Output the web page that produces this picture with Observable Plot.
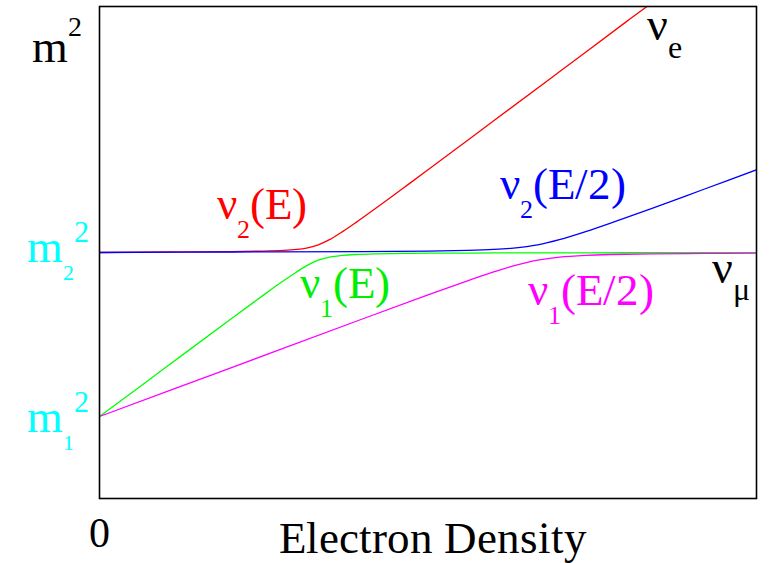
<!DOCTYPE html>
<html><head><meta charset="utf-8">
<style>
@font-face{font-family:"RefSerif";src:local("Liberation Serif"),local("LiberationSerif"),local("LiberationSerif-Regular"),local("Times New Roman");}
body{margin:0;background:#fff}
#chart{position:relative;width:769px;height:563px;overflow:hidden}
</style>
</head><body>
<div id="chart"></div>
<script src="https://cdn.jsdelivr.net/npm/d3@7"></script>
<script src="https://cdn.jsdelivr.net/npm/@observablehq/plot@0.6"></script>
<script>
// Electron density (arbitrary units, 0..1) and m^2 values (m1^2 = 1, m2^2 = 2)
const densityE   = [0,0.1,0.2,0.25,0.28,0.3,0.315,0.333,0.35,0.37,0.39,0.42,0.46,0.5,0.6,0.7,0.8,0.8333];
const nu2E       = [2.0,2.003,2.0055,2.0085,2.0128,2.0186,2.027,2.047,2.0782,2.1274,2.1821,2.2682,2.3857,2.5044,2.8028,3.102,3.4016,3.5];
const densityE1  = [0,0.1,0.2,0.25,0.28,0.3,0.315,0.333,0.35,0.37,0.39,0.42,0.46,0.5,0.6,0.7,0.8,0.9,1.0];
const nu1E       = [1.0,1.2969,1.5946,1.7415,1.8272,1.8814,1.9181,1.953,1.9718,1.9827,1.9879,1.9918,1.9943,1.9956,1.9972,1.998,1.9984,1.9987,1.9989];
const densityHalf= [0,0.2,0.4,0.5,0.56,0.6,0.63,0.667,0.7,0.74,0.78,0.84,0.92,1.0];
const nu2Half    = [2.0,2.0031,2.0055,2.0085,2.0128,2.0186,2.027,2.047,2.0782,2.1274,2.1821,2.2682,2.3857,2.5044];
const nu1Half    = [1.0,1.2969,1.5946,1.7415,1.8272,1.8814,1.9181,1.953,1.9718,1.9827,1.9879,1.9918,1.9943,1.9956];

const seriesNames  = ["nu2E","nu1E","nu2Half","nu1Half"];
const seriesColors = ["#ff0000","#00ff00","#0000ff","#ff00ff"];

// Text annotations: parts [text, role], anchored (baseline start) in data coordinates
const labelParts = [
  [["m","b"],["2","sup"]],
  [["m","b"],["2","sub"],["2","sup"]],
  [["m","b"],["1","sub"],["2","sup"]],
  [["0","b"]],
  [["Electron Density","b"]],
  [["ν","b"],["2","sub"],["(E)","b"]],
  [["ν","b"],["1","sub"],["(E)","b"]],
  [["ν","b"],["2","sub"],["(E/2)","b"]],
  [["ν","b"],["1","sub"],["(E/2)","b"]],
  [["ν","b"],["e","sub"]],
  [["ν","b"],["μ","sub"]]
];
const labelX = [-0.102,-0.110,-0.110,0,0.508,0.180,0.306,0.610,0.653,0.834,0.933];
const labelY = [3.159,1.939,0.902,0.201,0.165,2.201,1.720,2.323,1.677,3.293,1.811];

// styles for labels (not data): size, [subSize, subDrop], [supSize, supRise]
const labelStyle = [
  {fill:"#000", size:46, anchor:"start", sup:[28,26]},
  {fill:"#00ffff", size:46, anchor:"start", sub:[22,18], sup:[30,20]},
  {fill:"#00ffff", size:46, anchor:"start", sub:[22,18], sup:[30,20]},
  {fill:"#000", size:42, anchor:"middle"},
  {fill:"#000", size:45, anchor:"middle"},
  {fill:"#ff0000", size:45, anchor:"start", sub:[26,19]},
  {fill:"#00ee00", size:45, anchor:"start", sub:[26,19]},
  {fill:"#0000ff", size:45, anchor:"start", sub:[26,19]},
  {fill:"#ff00ff", size:45, anchor:"start", sub:[26,19]},
  {fill:"#000", size:46, anchor:"start", sub:[32,18]},
  {fill:"#000", size:46, anchor:"start", sub:[32,17]}
];
const FONT = "RefSerif,'Liberation Serif','Times New Roman',serif";

const rows = [];
densityE.forEach((x,i)=>rows.push({series:"nu2E", x, y:nu2E[i]}));
densityE1.forEach((x,i)=>rows.push({series:"nu1E", x, y:nu1E[i]}));
densityHalf.forEach((x,i)=>rows.push({series:"nu2Half", x, y:nu2Half[i]}));
densityHalf.forEach((x,i)=>rows.push({series:"nu1Half", x, y:nu1Half[i]}));

const plot = Plot.plot({
  width: 769, height: 563,
  marginLeft: 99, marginRight: 13, marginTop: 6, marginBottom: 65,
  x: {domain:[0,1], axis:null},
  y: {domain:[0.5,3.5], axis:null},
  color: {domain: seriesNames, range: seriesColors},
  style: {background: "#fff"},
  marks: [
    Plot.line(rows, {x:"x", y:"y", z:"series", stroke:"series", strokeWidth:1.3, curve:"catmull-rom", clip:true}),
    Plot.frame({stroke:"#000", strokeWidth:1.6})
  ]
});
const host = document.getElementById("chart");
host.appendChild(plot);

const sx = plot.scale("x"), sy = plot.scale("y");
const divs = [];
labelParts.forEach((parts, i) => {
  const st = labelStyle[i];
  const div = document.createElement("div");
  div.setAttribute("style", "position:absolute;white-space:nowrap;line-height:0;font-family:" + FONT + ";font-size:" + st.size + "px;color:" + st.fill + ";left:" + sx.apply(labelX[i]) + "px;top:0px;" + (st.anchor === "middle" ? "transform:translateX(-50%);" : ""));
  parts.forEach(([txt, role]) => {
    const s = document.createElement("span");
    s.textContent = txt;
    let css = "line-height:0;";
    if (role === "sub") css += "font-size:" + st.sub[0] + "px;vertical-align:" + (-st.sub[1]) + "px;";
    if (role === "sup") css += "font-size:" + st.sup[0] + "px;vertical-align:" + st.sup[1] + "px;";
    s.setAttribute("style", css);
    div.appendChild(s);
  });
  const marker = document.createElement("span");
  marker.setAttribute("style", "display:inline-block;width:0;height:0;vertical-align:baseline");
  div.appendChild(marker);
  host.appendChild(div);
  divs.push([div, marker, i]);
});
function place() {
  const hostTop = host.getBoundingClientRect().top;
  divs.forEach(([div, marker, i]) => {
    div.style.top = "0px";
    const baseY = marker.getBoundingClientRect().bottom - hostTop;
    div.style.top = (sy.apply(labelY[i]) - baseY) + "px";
  });
}
place();
if (document.fonts && document.fonts.ready) document.fonts.ready.then(place);
</script>
</body></html>
